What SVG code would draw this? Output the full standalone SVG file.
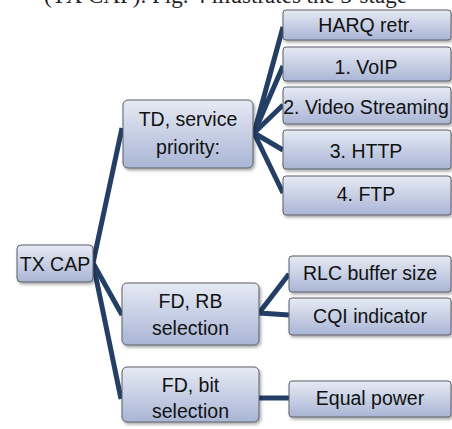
<svg xmlns="http://www.w3.org/2000/svg" width="452" height="429" viewBox="0 0 452 429">
  <defs>
    <linearGradient id="boxFill" x1="0" y1="0" x2="0" y2="1">
      <stop offset="0" stop-color="#e6eaf4"/>
      <stop offset="1" stop-color="#a9b5d5"/>
    </linearGradient>
    <filter id="shadow" x="-10%" y="-20%" width="125%" height="150%">
      <feDropShadow dx="1.5" dy="2" stdDeviation="1.5" flood-color="#000" flood-opacity="0.35"/>
    </filter>
  </defs>
  <style>
    .box { fill: url(#boxFill); stroke: #5b5e66; stroke-width: 1; filter: url(#shadow); }
    .lbl { font-family: "Liberation Sans", Arial, sans-serif; font-size: 19.5px; fill: #111; text-anchor: middle; }
    .link { fill: none; stroke: #243f66; stroke-width: 5; stroke-linecap: butt; stroke-linejoin: round; }
    .caption { font-family: "Liberation Serif", "Times New Roman", serif; font-size: 23px; fill: #222; }
  </style>

  <rect width="452" height="429" fill="#ffffff"/>

  <!-- running text line above the figure, cut at the top edge -->
  <text class="caption" x="44" y="3">(TX CAP). Fig. 4 illustrates the 3-stage</text>

  <!-- connectors -->
  <g id="connectors">
    <polyline class="link" points="122,128 93,263 122,315"/>
    <polyline class="link" points="93,263 121,399"/>
    <polyline class="link" points="283,27 254,133 283,66"/>
    <polyline class="link" points="254,133 283,105"/>
    <polyline class="link" points="254,133 283,150"/>
    <polyline class="link" points="254,133 283,193"/>
    <polyline class="link" points="289,274 259,313 289,315"/>
    <polyline class="link" points="259,398 289,398"/>
  </g>

  <!-- root -->
  <g id="tx-cap">
    <rect class="box" x="17" y="245" width="76" height="37" rx="4"/>
    <text class="lbl" x="55" y="271">TX CAP</text>
  </g>

  <!-- second level -->
  <g id="td-service-priority">
    <rect class="box" x="123" y="100" width="130" height="68" rx="5"/>
    <text class="lbl" x="188" y="126">TD, service</text>
    <text class="lbl" x="188" y="154">priority:</text>
  </g>
  <g id="fd-rb-selection">
    <rect class="box" x="122" y="283" width="137" height="62" rx="5"/>
    <text class="lbl" x="190.5" y="308">FD, RB</text>
    <text class="lbl" x="190.5" y="335">selection</text>
  </g>
  <g id="fd-bit-selection">
    <rect class="box" x="122" y="367" width="137" height="55" rx="5"/>
    <text class="lbl" x="190.5" y="392">FD, bit</text>
    <text class="lbl" x="190.5" y="418">selection</text>
  </g>

  <!-- service priorities -->
  <g id="harq-retr">
    <rect class="box" x="283" y="10" width="168" height="30" rx="3"/>
    <text class="lbl" x="366" y="32">HARQ retr.</text>
  </g>
  <g id="voip">
    <rect class="box" x="283" y="47" width="168" height="34" rx="3"/>
    <text class="lbl" x="366" y="74">1. VoIP</text>
  </g>
  <g id="video-streaming">
    <rect class="box" x="283" y="87" width="168" height="37" rx="3"/>
    <text class="lbl" x="366" y="114">2. Video Streaming</text>
  </g>
  <g id="http">
    <rect class="box" x="283" y="130" width="168" height="39" rx="3"/>
    <text class="lbl" x="366" y="158">3. HTTP</text>
  </g>
  <g id="ftp">
    <rect class="box" x="283" y="176" width="168" height="39" rx="3"/>
    <text class="lbl" x="366" y="201">4. FTP</text>
  </g>

  <!-- RB selection criteria -->
  <g id="rlc-buffer-size">
    <rect class="box" x="289" y="256" width="162" height="36" rx="3"/>
    <text class="lbl" x="370" y="280">RLC buffer size</text>
  </g>
  <g id="cqi-indicator">
    <rect class="box" x="289" y="298" width="162" height="37" rx="3"/>
    <text class="lbl" x="370" y="323">CQI indicator</text>
  </g>

  <!-- bit selection -->
  <g id="equal-power">
    <rect class="box" x="289" y="381" width="162" height="36" rx="3"/>
    <text class="lbl" x="370" y="405">Equal power</text>
  </g>
</svg>
